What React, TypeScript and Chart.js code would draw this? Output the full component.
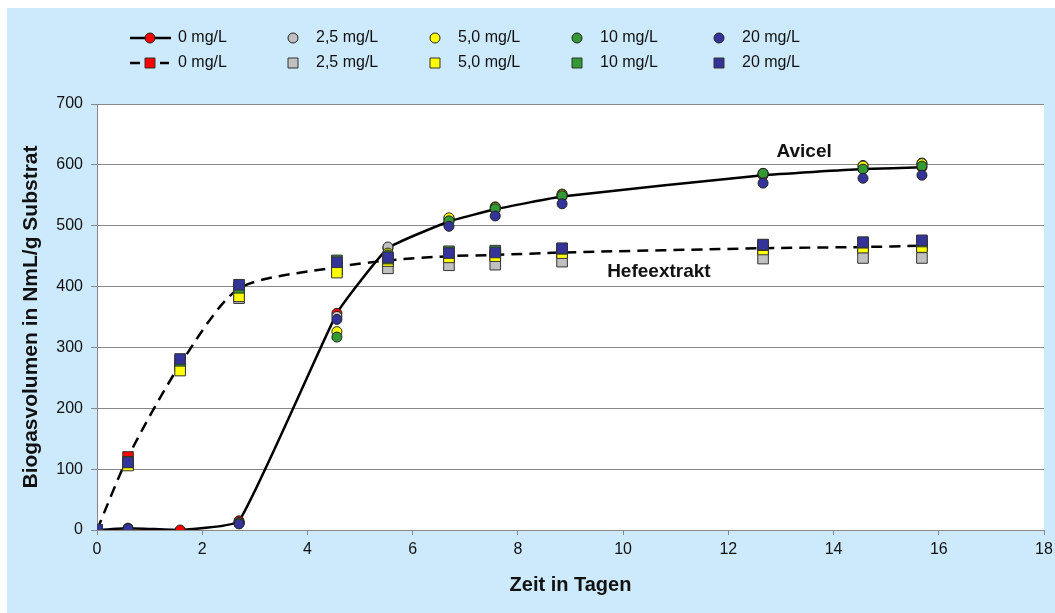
import React, { useEffect, useRef } from "react";
import { Chart, registerables } from "chart.js";

Chart.register(...registerables);

// Time points (days)
const days = [0, 0.59, 1.58, 2.7, 4.56, 5.53, 6.69, 7.57, 8.84, 12.66, 14.56, 15.68];

// Avicel (circles) – biogas volume NmL/g substrate
const avicel0 = [0, 3, 0, 15, 356, 463, 507, 527, 548, 583, 593, 596];
const avicel25 = [0, 2, null, 12, 351, 465, 512, 531, 552, 586, 599, 603];
const avicel50 = [0, 2, null, 12, 326, 455, 513, 530, 551, 585, 598, 602];
const avicel10 = [0, 2, null, 12, 317, 452, 508, 528, 549, 586, 593, 598];
const avicel20 = [0, 2, null, 10, 346, 448, 499, 516, 536, 570, 578, 583];

// Hefeextrakt (squares)
const hefe0 = [0, 120, 272, 397, 432, 443, 450, 452, 456, 463, 465, 467];
const hefe25 = [0, 108, 268, 381, 428, 430, 435, 436, 441, 446, 447, 447];
const hefe50 = [0, 106, 262, 384, 423, 442, 448, 450, 455, 461, 464, 465];
const hefe10 = [0, 112, 278, 398, 443, 446, 458, 459, 462, 468, 472, 474];
const hefe20 = [0, 111, 281, 403, 440, 448, 455, 456, 463, 469, 473, 476];

const concLabels = ["0 mg/L", "2,5 mg/L", "5,0 mg/L", "10 mg/L", "20 mg/L"];
const fillColors = ["#ff0000", "#c0c0c0", "#ffff00", "#339933", "#333399"];

const avicelSeries = [avicel0, avicel25, avicel50, avicel10, avicel20];
const hefeSeries = [hefe0, hefe25, hefe50, hefe10, hefe20];

const yAxisTitle = "Biogasvolumen in NmL/g Substrat";
const xAxisTitle = "Zeit in Tagen";
const annotations = [
  { text: "Avicel", x: 13.44, y: 621 },
  { text: "Hefeextrakt", x: 10.68, y: 424 },
];

const FONT = "'Liberation Sans', Arial, Helvetica, sans-serif";
const BG = "#cdeafc";

function toPoints(vals: (number | null)[]) {
  const out: { x: number; y: number }[] = [];
  vals.forEach((v, i) => {
    if (v !== null && v !== undefined) out.push({ x: days[i], y: v });
  });
  return out;
}

export default function App() {
  const canvasRef = useRef<HTMLCanvasElement | null>(null);

  useEffect(() => {
    document.documentElement.style.overflow = "hidden";
    document.body.style.margin = "0";
    const canvas = canvasRef.current;
    if (!canvas) return;

    const datasets: any[] = [];
    avicelSeries.forEach((s, i) => {
      datasets.push({
        label: concLabels[i],
        data: toPoints(s),
        showLine: i === 0,
        borderColor: "#000",
        borderWidth: 2.5,
        tension: 0.12,
        pointStyle: "circle",
        pointRadius: 5,
        pointHoverRadius: 5,
        pointBorderWidth: 1,
        pointBorderColor: "#222",
        pointBackgroundColor: fillColors[i],
        order: 20 - i,
      });
    });
    hefeSeries.forEach((s, i) => {
      datasets.push({
        label: concLabels[i],
        data: toPoints(s),
        showLine: i === 0,
        borderColor: "#000",
        borderWidth: 2.5,
        borderDash: [11, 7],
        tension: 0.25,
        pointStyle: "rect",
        pointRadius: 7.5,
        pointHoverRadius: 7.5,
        pointBorderWidth: 1,
        pointBorderColor: "#333",
        pointBackgroundColor: fillColors[i],
        order: 10 - i,
      });
    });

    const bgPlugin = {
      id: "bgPlugin",
      beforeDraw(chart: any) {
        const { ctx, chartArea } = chart;
        ctx.save();
        ctx.fillStyle = BG;
        ctx.fillRect(0, 0, chart.width, chart.height);
        ctx.fillStyle = "#ffffff";
        ctx.fillRect(chartArea.left, chartArea.top, chartArea.right - chartArea.left, chartArea.bottom - chartArea.top);
        ctx.restore();
      },
    };

    const drawMarker = (ctx: CanvasRenderingContext2D, style: string, x: number, y: number, color: string) => {
      ctx.save();
      ctx.fillStyle = color;
      ctx.lineWidth = 1;
      ctx.strokeStyle = style === "circle" ? "#222" : "#333";
      ctx.beginPath();
      if (style === "circle") {
        ctx.arc(x, y, 5, 0, Math.PI * 2);
      } else {
        ctx.rect(x - 5, y - 5, 10, 10);
      }
      ctx.fill();
      ctx.stroke();
      ctx.restore();
    };

    const legendPlugin = {
      id: "customLegend",
      afterDraw(chart: any) {
        const ctx = chart.ctx as CanvasRenderingContext2D;
        const markerX = [143, 286, 428, 570, 712];
        const textX = [171, 309, 451, 593, 735];
        const rows = [30, 55];
        ctx.save();
        ctx.strokeStyle = "#000";
        ctx.lineWidth = 2.5;
        ctx.beginPath();
        ctx.moveTo(123, rows[0]);
        ctx.lineTo(164, rows[0]);
        ctx.stroke();
        ctx.beginPath();
        ctx.moveTo(123, rows[1]);
        ctx.lineTo(133, rows[1]);
        ctx.moveTo(153, rows[1]);
        ctx.lineTo(162, rows[1]);
        ctx.stroke();
        ctx.restore();
        for (let i = 0; i < concLabels.length; i++) {
          drawMarker(ctx, "circle", markerX[i], rows[0], fillColors[i]);
          drawMarker(ctx, "rect", markerX[i], rows[1], fillColors[i]);
          ctx.save();
          ctx.fillStyle = "#111";
          ctx.font = `16px ${FONT}`;
          ctx.textBaseline = "middle";
          ctx.textAlign = "left";
          ctx.fillText(concLabels[i], textX[i], rows[0]);
          ctx.fillText(concLabels[i], textX[i], rows[1]);
          ctx.restore();
        }
        const xs = chart.scales.x;
        const ys = chart.scales.y;
        ctx.save();
        ctx.fillStyle = "#111";
        ctx.font = `bold 19px ${FONT}`;
        ctx.textAlign = "center";
        ctx.textBaseline = "middle";
        annotations.forEach((a) => {
          ctx.fillText(a.text, xs.getPixelForValue(a.x), ys.getPixelForValue(a.y));
        });
        ctx.restore();
      },
    };

    const chart = new Chart(canvas, {
      type: "line",
      data: { datasets },
      options: {
        animation: false,
        responsive: false,
        maintainAspectRatio: false,
        events: [],
        layout: { padding: { top: 96, right: 11, left: 0, bottom: 0 } },
        plugins: {
          legend: { display: false },
          tooltip: { enabled: false },
        },
        scales: {
          x: {
            type: "linear",
            min: 0,
            max: 18,
            afterFit: (scale: any) => {
              scale.height = 83;
              scale.paddingRight = 0;
              scale.paddingLeft = 0;
            },
            ticks: {
              stepSize: 2,
              color: "#111",
              font: { family: FONT, size: 16 },
              padding: 5,
              maxRotation: 0,
            },
            grid: {
              drawOnChartArea: false,
              drawTicks: true,
              tickLength: 5,
              color: "#888",
            },
            border: { color: "#888", width: 1 },
            title: {
              display: true,
              text: xAxisTitle,
              color: "#111",
              font: { family: FONT, size: 20, weight: "bold" },
              padding: { top: 0, bottom: 16 },
            },
          },
          y: {
            type: "linear",
            min: 0,
            max: 700,
            afterFit: (scale: any) => {
              scale.width = 90;
              scale.paddingTop = 0;
              scale.paddingBottom = 0;
            },
            ticks: {
              stepSize: 100,
              color: "#111",
              font: { family: FONT, size: 16 },
              padding: 8,
            },
            grid: {
              drawOnChartArea: true,
              drawTicks: true,
              tickLength: 6,
              color: "#888",
            },
            border: { color: "#888", width: 1 },
            title: {
              display: true,
              text: yAxisTitle,
              color: "#111",
              font: { family: FONT, size: 21, weight: "bold" },
              padding: { top: 12, bottom: 0 },
            },
          },
        },
      },
      plugins: [bgPlugin, legendPlugin],
    });

    return () => {
      chart.destroy();
    };
  }, []);

  return (
    <div style={{ position: "fixed", left: 7, top: 8, width: 1048, height: 605, background: BG }}>
      <canvas ref={canvasRef} width={1048} height={605} style={{ display: "block", width: 1048, height: 605 }} />
    </div>
  );
}
